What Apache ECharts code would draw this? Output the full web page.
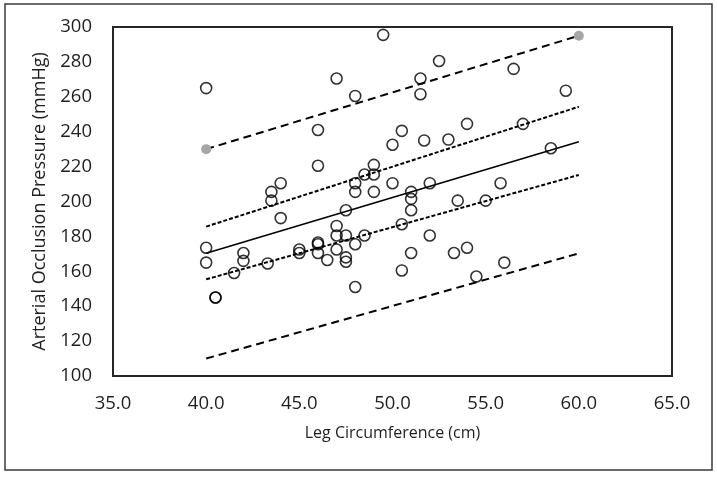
<!DOCTYPE html>
<html>
<head>
<meta charset="utf-8">
<script src="https://cdn.jsdelivr.net/npm/echarts@6/dist/echarts.min.js"></script>
<style>html,body{margin:0;padding:0;background:#fff}#c{width:717px;height:478px}</style>
</head>
<body>
<div id="c"></div>
<script>
// Observed data: [leg circumference (cm), arterial occlusion pressure (mmHg)]
var legCircumference = [40,40,40,40.5,40.5,41.5,42,42,43.3,43.5,43.5,44,44,45,45,46,46,46,46,46,46.5,47,47,47,47,47.5,47.5,47.5,47.5,48,48,48,48,48,48.5,48.5,49.5,49,49,49,50,50,50.5,50.5,50.5,51,51,51,51,51.5,51.5,51.7,52,52,52.5,53,53.3,53.5,54,54,54.5,55,55.8,56,56.5,57,58.5,59.3];
var occlusionPressure = [265,173.5,165,145,145,159,170.5,166,164.5,205.5,200.5,210.5,190.5,172.5,170.5,241,220.5,176.5,175.5,170.5,166.5,270.5,186,180.5,172.5,195,180.5,168,165.5,260.5,210.5,205.5,175.5,151,215.5,180.5,295.5,221,215.5,205.5,232.5,210.5,240.5,187,160.5,205.5,201.5,195,170.5,270.5,261.5,235,210.5,180.5,280.5,235.5,170.5,200.5,244.5,173.5,157,200.5,210.5,165,276,244.5,230.5,263.5];
// Fitted lines (endpoints at x = 40 and x = 60)
var fitX = [40, 60];
var regression = [170.3, 234.3];
var confUpper = [185.6, 254.3];
var confLower = [155.4, 215.2];
var predUpper = [230, 295];
var predLower = [110, 170.3];
var xTicks = {min: 35, max: 65, step: 5};
var yTicks = {min: 100, max: 300, step: 20};

function pairs(xs, ys){ return xs.map(function(x,i){ return [x, ys[i]]; }); }

var chart = echarts.init(document.getElementById('c'), null, {renderer:'canvas'});
var font = "'Open Sans', 'Noto Sans', sans-serif";
var txt = '#1f1f1f';
chart.setOption({
  animation: false,
  backgroundColor: '#fff',
  graphic: [{
    type: 'rect', shape: {x: 5, y: 4, width: 707, height: 466},
    style: {fill: 'none', stroke: '#3a3a3a', lineWidth: 1.5}, z: -1, silent: true
  }],
  grid: {left: 113, right: 45, top: 27, bottom: 102, show: true, borderColor: '#262626', borderWidth: 2, backgroundColor: 'transparent'},
  xAxis: {
    type: 'value', min: xTicks.min, max: xTicks.max, interval: xTicks.step,
    name: 'Leg Circumference (cm)', nameLocation: 'middle', nameGap: 49,
    nameTextStyle: {fontFamily: font, fontSize: 16, color: txt},
    axisLine: {show: false}, axisTick: {show: false}, splitLine: {show: false},
    axisLabel: {fontFamily: font, fontSize: 18.5, color: txt, margin: 18, formatter: function(v){ return v.toFixed(1); }}
  },
  yAxis: {
    type: 'value', min: yTicks.min, max: yTicks.max, interval: yTicks.step,
    name: 'Arterial Occlusion Pressure (mmHg)', nameLocation: 'middle', nameGap: 63,
    nameTextStyle: {fontFamily: font, fontSize: 18, color: txt},
    axisLine: {show: false}, axisTick: {show: false}, splitLine: {show: false},
    axisLabel: {fontFamily: font, fontSize: 18.5, color: txt, margin: 21}
  },
  series: [
    {type: 'line', data: pairs(fitX, predUpper), symbol: 'circle', symbolSize: 10, showSymbol: true,
     itemStyle: {color: '#a6a6a6', borderWidth: 0}, lineStyle: {color: '#000', width: 2, type: [8, 5]}, z: 3},
    {type: 'line', data: pairs(fitX, predLower), symbol: 'none', lineStyle: {color: '#000', width: 2, type: [8, 5]}, z: 3},
    {type: 'line', data: pairs(fitX, confUpper), symbol: 'none', lineStyle: {color: '#000', width: 2, type: [4, 2]}, z: 3},
    {type: 'line', data: pairs(fitX, confLower), symbol: 'none', lineStyle: {color: '#000', width: 2, type: [4, 2]}, z: 3},
    {type: 'line', data: pairs(fitX, regression), symbol: 'none', lineStyle: {color: '#000', width: 1.6}, z: 3},
    {type: 'scatter', data: pairs(legCircumference, occlusionPressure), symbol: 'circle', symbolSize: 11,
     itemStyle: {color: 'rgba(255,255,255,0)', borderColor: '#000', borderWidth: 1.6}, z: 4}
  ]
});
</script>
</body>
</html>
